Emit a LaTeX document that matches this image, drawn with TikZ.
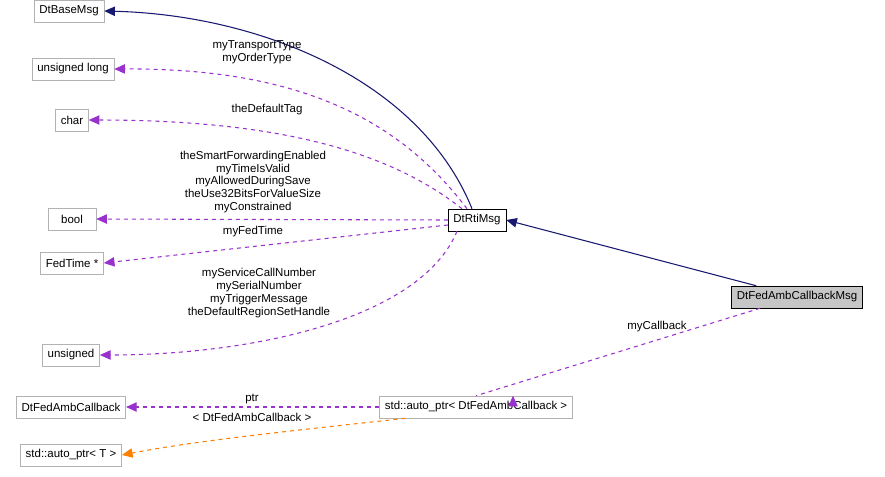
\documentclass[tikz,border=0pt]{standalone}
\usepackage{fontspec}
\setmainfont{Liberation Sans}
\usetikzlibrary{arrows.meta}
\begin{document}
\begin{tikzpicture}[x=0.75pt,y=-0.75pt,
  every node/.style={font=\fontsize{8.6}{9.6}\selectfont},
  box/.style={draw=gray!60,fill=white,minimum height=16.5pt,inner xsep=4pt},
  lbl/.style={align=center,inner sep=0pt},
  inh/.style={draw={rgb,255:red,25;green,25;blue,112},-{Triangle[width=7pt,length=8pt]},thick},
  use/.style={draw={rgb,255:red,153;green,50;blue,204},dashed,-{Triangle[width=7pt,length=8pt]},thick},
  tpl/.style={draw=orange,dashed,-{Triangle[width=7pt,length=8pt]},thick}]
\useasboundingbox (0,0) rectangle (885,476);
\node[box] (base) at (69,11) {DtBaseMsg};
\node[box] (ul) at (73,69) {unsigned long};
\node[box] (ch) at (72,120) {char};
\node[box,minimum width=36pt] (bo) at (72,219) {bool};
\node[box] (ft) at (72,263) {FedTime *};
\node[box] (un) at (71,355) {unsigned};
\node[box] (cb) at (71,407) {DtFedAmbCallback};
\node[box] (apt) at (71,455) {std::auto\_ptr< T >};
\node[box,draw=black] (rti) at (477,220) {DtRtiMsg};
\node[box,draw=black,fill=gray!45] (msg) at (797,297) {DtFedAmbCallbackMsg};
\node[box] (ap) at (476,407) {std::auto\_ptr< DtFedAmbCallback >};

\draw[inh] (rti.north) ++(-5,0) .. controls (420,80) and (260,15) .. (base.east);
\draw[inh] (msg.north west) ++(25,0) -- (rti.east);
\draw[use] (rti.north) ++(-10,0) .. controls (400,120) and (300,68) .. (ul.east);
\draw[use] (rti.north) ++(-15,0) .. controls (400,160) and (300,120) .. (ch.east);
\draw[use] (rti.west) -- (bo.east);
\draw[use] (rti.west) ++(0,5) -- (ft.east);
\draw[use] (rti.south) ++(-20,0) .. controls (420,320) and (250,355) .. (un.east);
\draw[use] (msg.south) ++(-37,0) -- (ap.north) ++(37,0);
\draw[use] (ap.west) -- (cb.east);
\draw[tpl] (ap.south west) ++(26,0) .. controls (300,430) and (200,440) .. (apt.east);

\node[lbl] at (257,52) {myTransportType\\myOrderType};
\node[lbl] at (267,110) {theDefaultTag};
\node[lbl] at (253,182) {theSmartForwardingEnabled\\myTimeIsValid\\myAllowedDuringSave\\theUse32BitsForValueSize\\myConstrained};
\node[lbl] at (253,232) {myFedTime};
\node[lbl] at (259,293) {myServiceCallNumber\\mySerialNumber\\myTriggerMessage\\theDefaultRegionSetHandle};
\node[lbl] at (657,327) {myCallback};
\node[lbl] at (252,399) {ptr};
\node[lbl] at (252,417) {< DtFedAmbCallback >};
\end{tikzpicture}
\end{document}
